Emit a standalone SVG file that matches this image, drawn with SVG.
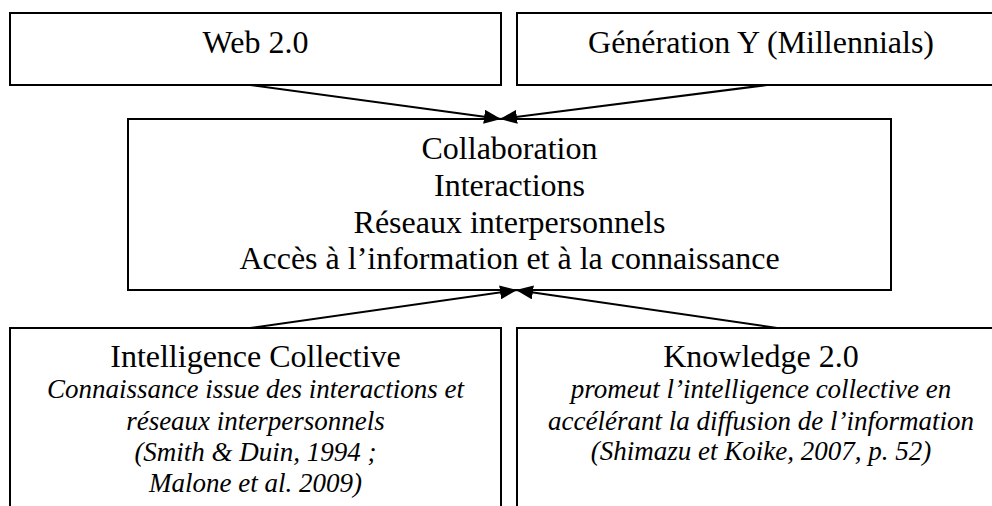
<svg xmlns="http://www.w3.org/2000/svg" width="992" height="506" viewBox="0 0 992 506">
<defs>
<style>
.box{fill:#fff;stroke:#000;stroke-width:2}
.t{font-family:"Liberation Serif","Times New Roman",serif;font-size:32px;fill:#000;text-anchor:middle}
.i{font-family:"Liberation Serif","Times New Roman",serif;font-size:27px;font-style:italic;fill:#000;text-anchor:middle}
.c{stroke:#000;stroke-width:2;fill:none;marker-end:url(#ah)}
</style>
<marker id="ah" markerUnits="userSpaceOnUse" markerWidth="18" markerHeight="14" refX="17" refY="7" orient="auto">
<path d="M0,0 L17,7 L0,14 Z" fill="#000"/>
</marker>
</defs>
<rect width="992" height="506" fill="#fff"/>
<g id="web20">
<rect class="box" x="10" y="13" width="491" height="72"/>
<text class="t" x="255.5" y="53">Web 2.0</text>
</g>
<g id="generation-y">
<rect class="box" x="517" y="13" width="490" height="72"/>
<text class="t" x="761" y="53">Génération Y (Millennials)</text>
</g>
<g id="center">
<rect class="box" x="128" y="119" width="763" height="171"/>
<text class="t" x="509.5" y="159">Collaboration</text>
<text class="t" x="509.5" y="196">Interactions</text>
<text class="t" x="509.5" y="233">Réseaux interpersonnels</text>
<text class="t" x="509.5" y="269">Accès à l’information et à la connaissance</text>
</g>
<g id="intelligence-collective">
<rect class="box" x="10" y="328" width="491" height="200"/>
<text class="t" x="255.5" y="367">Intelligence Collective</text>
<text class="i" x="255.5" y="398">Connaissance issue des interactions et</text>
<text class="i" x="255.5" y="430">réseaux interpersonnels</text>
<text class="i" x="255.5" y="461">(Smith &amp; Duin, 1994 ;</text>
<text class="i" x="255.5" y="492">Malone et al. 2009)</text>
</g>
<g id="knowledge-20">
<rect class="box" x="517" y="328" width="490" height="200"/>
<text class="t" x="761" y="367">Knowledge 2.0</text>
<text class="i" x="761" y="398">promeut l’intelligence collective en</text>
<text class="i" x="761" y="430">accélérant la diffusion de l’information</text>
<text class="i" x="761" y="460">(Shimazu et Koike, 2007, p. 52)</text>
</g>
<g id="connectors">
<line class="c" x1="250" y1="85" x2="501" y2="119"/>
<line class="c" x1="767" y1="85" x2="500" y2="119"/>
<line class="c" x1="250" y1="328" x2="517" y2="290"/>
<line class="c" x1="777" y1="328" x2="516" y2="290"/>
</g>
</svg>
